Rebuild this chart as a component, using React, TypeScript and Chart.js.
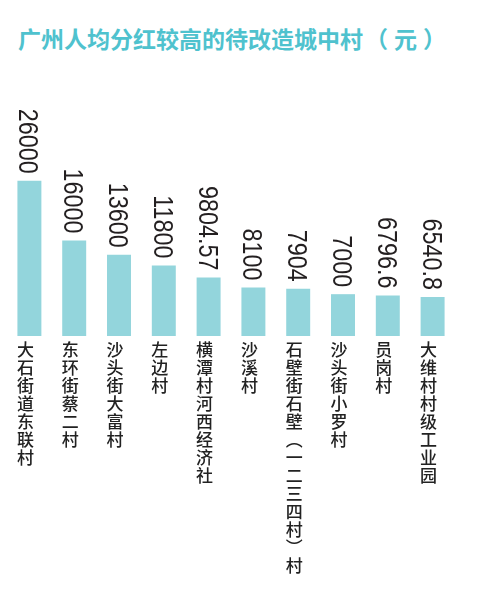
import { useEffect, useRef } from 'react'
import { Chart, registerables } from 'chart.js'

Chart.register(...registerables)

const VILLAGES = [
  '大石街道东联村',
  '东环街蔡二村',
  '沙头街大富村',
  '左边村',
  '横潭村河西经济社',
  '沙溪村',
  '石壁街石壁（一二三四村）村',
  '沙头街小罗村',
  '员岗村',
  '大维村村级工业园',
]
const DIVIDENDS = [26000, 16000, 13600, 11800, 9804.57, 8100, 7904, 7000, 6796.6, 6540.8]
const VALUE_TEXT = ['26000', '16000', '13600', '11800', '9804.57', '8100', '7904', '7000', '6796.6', '6540.8']

const TEAL = '#4fc2ce'
const BAR = '#93d5dc'

// stack chinese chars vertically, parens swapped for vertical forms
function vertical(s: string): string[] {
  return s.split('').map(c => (c === '（' ? '︵' : c === '）' ? '︶' : c))
}

const valueLabels = {
  id: 'valueLabels',
  afterDatasetsDraw(chart: any) {
    const ctx = chart.ctx
    const meta = chart.getDatasetMeta(0)
    ctx.save()
    ctx.fillStyle = '#231f20'
    ctx.font = '28px "Liberation Sans", Arial, sans-serif'
    ctx.textAlign = 'right'
    ctx.textBaseline = 'alphabetic'
    meta.data.forEach((bar: any, i: number) => {
      ctx.save()
      ctx.translate(bar.x, bar.y - 7)
      ctx.rotate(Math.PI / 2)
      ctx.scale(0.835, 1)
      ctx.fillText(VALUE_TEXT[i], 0, 10)
      ctx.restore()
    })
    ctx.restore()
  },
}

function BarChart() {
  const ref = useRef<HTMLCanvasElement>(null)
  useEffect(() => {
    if (!ref.current) return
    const chart = new Chart(ref.current, {
      type: 'bar',
      data: {
        labels: VILLAGES.map(vertical),
        datasets: [{
          data: DIVIDENDS,
          backgroundColor: BAR,
          borderWidth: 0,
          barPercentage: 0.535,
          categoryPercentage: 1,
        }],
      },
      options: {
        responsive: false,
        animation: false,
        layout: { padding: { left: 7, right: 27, top: 37, bottom: 0 } },
        plugins: { legend: { display: false }, tooltip: { enabled: false } },
        scales: {
          x: {
            grid: { display: false, drawTicks: false },
            border: { display: false },
            ticks: {
              color: '#222',
              padding: 5,
              labelOffset: -4,
              maxRotation: 0,
              autoSkip: false,
              font: { family: '"Noto Sans CJK SC", sans-serif', size: 17, weight: '500', lineHeight: 18 / 17 },
            },
            afterFit: (scale: any) => { scale.height = 258 },
          },
          y: {
            display: false,
            min: 0,
            max: 40000,
          },
        },
      },
      plugins: [valueLabels],
    })
    return () => chart.destroy()
  }, [])
  return <canvas ref={ref} width={482} height={534} style={{ width: 482, height: 534, display: 'block' }} />
}

export default function App() {
  return (
    <div style={{ position: 'absolute', left: 0, top: 0, width: 482, height: 594, background: '#fff' }}>
      <div style={{
        position: 'absolute', left: 18, top: 27,
        fontFamily: '"Noto Sans CJK SC", sans-serif', fontWeight: 700,
        fontSize: 23, lineHeight: '23px', color: TEAL, whiteSpace: 'nowrap',
      }}>
        广州人均分红较高的待改造城中村
        <span style={{ marginLeft: 2 }}>（</span>
        <span style={{ margin: '0 6px' }}>元</span>
        <span>）</span>
      </div>
      <div style={{ position: 'absolute', left: 0, top: 60 }}>
        <BarChart />
      </div>
    </div>
  )
}
